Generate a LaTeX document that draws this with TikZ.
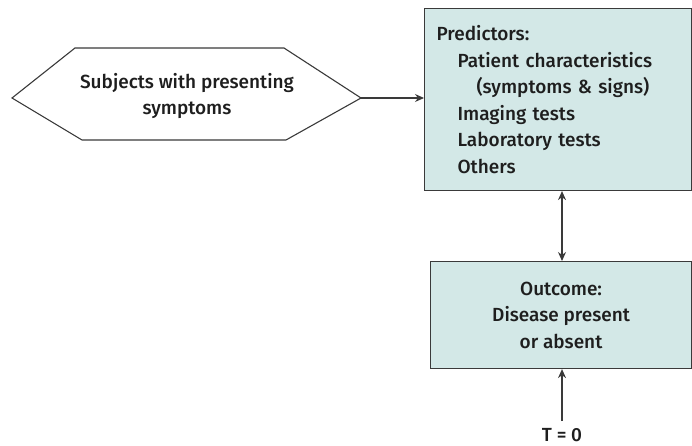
\documentclass[tikz,border=0pt]{standalone}
\usepackage{fontspec}
\setmainfont{Fira Sans}[UprightFont=* Medium]
\usetikzlibrary{arrows.meta}
\definecolor{boxfill}{HTML}{D3E8E7}
\definecolor{edge}{HTML}{3A3A3A}
\definecolor{ink}{HTML}{1E1E1E}
\tikzset{
  txt/.style={font=\fontsize{19}{26.5}\selectfont, text=ink},
  bluebox/.style={draw=edge, line width=1.1pt, fill=boxfill, txt, inner sep=0pt},
  conn/.style={draw=edge, line width=1.1pt, -{Stealth[length=9pt,width=8pt]}},
  dconn/.style={draw=edge, line width=1.1pt, {Stealth[length=9pt,width=8pt]}-{Stealth[length=9pt,width=8pt]}}
}
\begin{document}
\begin{tikzpicture}[x=1pt,y=-1pt]
\useasboundingbox (0,0) rectangle (692,446);
% hexagon
\coordinate (hl) at (12,98);
\coordinate (htl) at (75,48);
\coordinate (htr) at (284,48);
\coordinate (hr) at (361,98);
\coordinate (hbr) at (286,140);
\coordinate (hbl) at (82,140);
\draw[draw=edge, line width=1.1pt, fill=white] (hl) -- (htl) -- (htr) -- (hr) -- (hbr) -- (hbl) -- cycle;
\node[txt, align=center] (subj) at (187,96) {Subjects with presenting\\symptoms};
% predictors
\node[bluebox, anchor=north west, minimum width=267, minimum height=182,
      text width=243, align=left] (pred) at (424,8)
  {Predictors:\\
   \hspace*{21pt}Patient characteristics\\
   \hspace*{40pt}(symptoms \& signs)\\
   \hspace*{21pt}Imaging tests\\
   \hspace*{21pt}Laboratory tests\\
   \hspace*{21pt}Others};
% outcome
\node[bluebox, anchor=north west, minimum width=261, minimum height=107,
      align=center] (out) at (430,261)
  {Outcome:\\Disease present\\or absent};
\node[txt, anchor=center, inner sep=1pt] (t0) at (562,435) {T = 0};
\coordinate (t0top) at (562,421);
% connectors
\draw[conn] (hr) -- (pred.west |- hr);
\draw[dconn] (pred.south -| t0) -- (out.north -| t0);
\draw[conn] (t0top) -- (out.south -| t0);
\end{tikzpicture}
\end{document}
